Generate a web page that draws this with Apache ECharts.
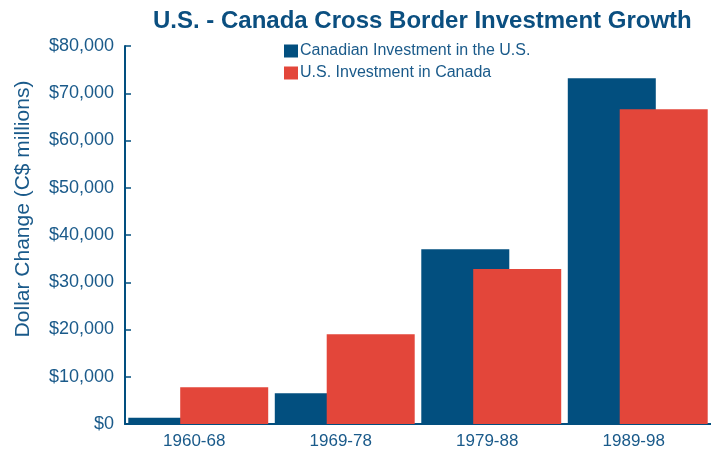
<!DOCTYPE html>
<html>
<head>
<meta charset="utf-8">
<script src="https://cdn.jsdelivr.net/npm/echarts@6/dist/echarts.min.js"></script>
<style>
  html, body { margin: 0; padding: 0; background: #fff; }
  #app { width: 711px; height: 453px; }
</style>
</head>
<body>
<div id="app"></div>
<script>
// values in C$ millions
const periods = ["1960-68", "1969-78", "1979-88", "1989-98"];
const canadianInUS = [1300, 6500, 37000, 73200];
const usInCanada = [7800, 19000, 32800, 66600];
const seriesNames = ["Canadian Investment in the U.S.", "U.S. Investment in Canada"];

const BLUE = "#024f7f";
const RED = "#e3463a";
const TEXT = "#1a5a8a";
const FONT = "'Liberation Sans', Arial, sans-serif";

const chart = echarts.init(document.getElementById("app"), null, { renderer: "canvas" });

chart.setOption({
  backgroundColor: "#fff",
  animation: false,
  textStyle: { fontFamily: FONT },
  title: {
    text: "U.S. - Canada Cross Border Investment Growth",
    left: 148,
    top: 4,
    textStyle: {
      color: "#0b4f80",
      fontSize: 24,
      fontWeight: "bold",
      fontFamily: FONT
    }
  },
  legend: {
    orient: "vertical",
    left: 284,
    top: 43,
    padding: 0,
    itemWidth: 14,
    itemHeight: 13,
    itemGap: 6,
    icon: "rect",
    textStyle: { color: TEXT, fontSize: 16, padding: [0, 0, 0, -3] },
    data: seriesNames
  },
  grid: {
    left: 125,
    right: 0,
    top: 46,
    bottom: 29
  },
  xAxis: {
    type: "category",
    data: periods,
    axisLine: { lineStyle: { color: BLUE, width: 2 } },
    axisTick: { show: false },
    axisLabel: { color: TEXT, fontSize: 17, margin: 9, padding: [0, 8, 0, 0] }
  },
  yAxis: {
    type: "value",
    min: 0,
    max: 80000,
    interval: 10000,
    name: "Dollar Change (C$ millions)",
    nameLocation: "middle",
    nameGap: 91,
    nameTextStyle: { color: TEXT, fontSize: 21, padding: [0, 0, 0, 52] },
    axisLine: { show: true, lineStyle: { color: BLUE, width: 2 } },
    axisTick: { show: true, inside: true, length: 6, lineStyle: { color: BLUE, width: 1.5 } },
    splitLine: { show: false },
    axisLabel: {
      color: TEXT,
      fontSize: 18,
      margin: 11,
      formatter: v => "$" + v.toLocaleString("en-US")
    }
  },
  series: [
    {
      name: seriesNames[0],
      type: "bar",
      data: canadianInUS,
      barWidth: 88,
      barGap: "-41%",
      itemStyle: { color: BLUE }
    },
    {
      name: seriesNames[1],
      type: "bar",
      data: usInCanada,
      barWidth: 88,
      itemStyle: { color: RED }
    }
  ]
});
</script>
</body>
</html>
